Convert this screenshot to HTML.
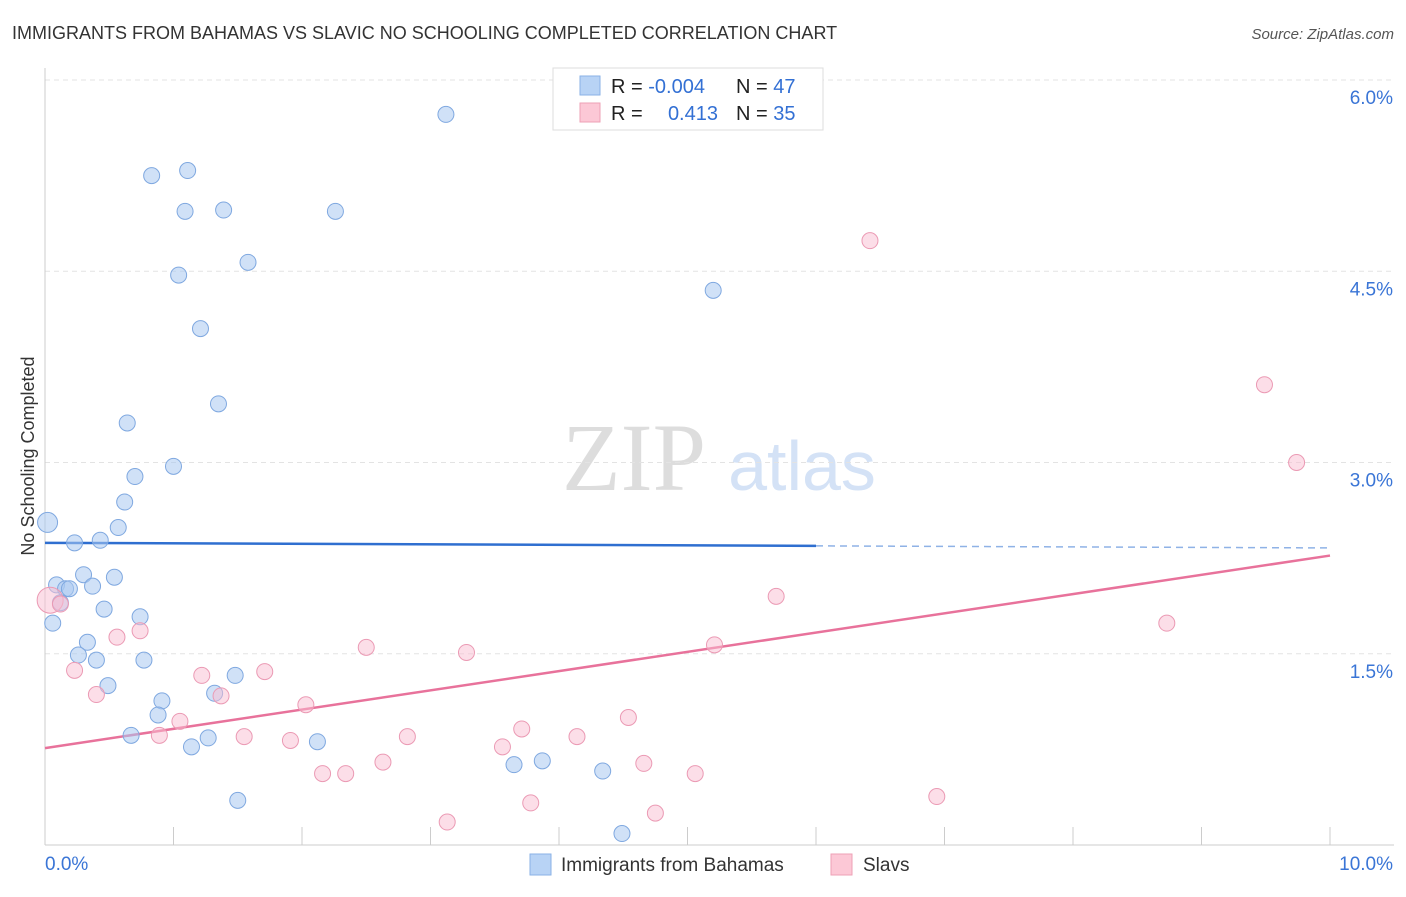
<!DOCTYPE html>
<html><head><meta charset="utf-8"><style>
body{margin:0;background:#fff;font-family:"Liberation Sans",sans-serif;}
</style></head><body>
<svg id="chart" width="1406" height="892" xmlns="http://www.w3.org/2000/svg" font-family="Liberation Sans, sans-serif">
<text x="12" y="39" font-size="18" fill="#333">IMMIGRANTS FROM BAHAMAS VS SLAVIC NO SCHOOLING COMPLETED CORRELATION CHART</text>
<text x="1394" y="39" font-size="15" fill="#555" text-anchor="end" font-style="italic">Source: ZipAtlas.com</text>
<g><text x="634" y="490" font-size="96" fill="#ddd" font-family="Liberation Serif, serif" text-anchor="middle">ZIP</text><text x="802" y="490" font-size="70" fill="#d4e2f6" text-anchor="middle">atlas</text></g>
<g id="grid"></g><g id="axes"></g><g id="trends"></g><g id="pts"></g>
<text transform="translate(34,456) rotate(-90)" font-size="18" fill="#333" text-anchor="middle">No Schooling Completed</text>
<g>
<rect x="553" y="68" width="270" height="62" fill="#fff" stroke="#ddd"/>
<rect x="580" y="76" width="20" height="19" fill="#b8d3f5" stroke="#8ab1e6"/>
<rect x="580" y="103" width="20" height="19" fill="#fcc8d6" stroke="#eea0b6"/>
<text x="611" y="93" font-size="20" fill="#222">R = <tspan fill="#3370d4">-0.004</tspan></text>
<text x="736" y="93" font-size="20" fill="#222">N = <tspan fill="#3370d4">47</tspan></text>
<text x="611" y="120" font-size="20" fill="#222">R = </text>
<text x="718" y="120" font-size="20" fill="#3370d4" text-anchor="end">0.413</text>
<text x="736" y="120" font-size="20" fill="#222">N = <tspan fill="#3370d4">35</tspan></text>
</g>
<g>
<rect x="530" y="854" width="21" height="21" fill="#b8d3f5" stroke="#8ab1e6"/>
<text x="561" y="871" font-size="19" fill="#333">Immigrants from Bahamas</text>
<rect x="831" y="854" width="21" height="21" fill="#fcc8d6" stroke="#eea0b6"/>
<text x="863" y="871" font-size="19" fill="#333">Slavs</text>
</g>
</svg>
<script>
const blueX=[0.02,0.23,0.43,0.09,0.16,0.19,0.30,0.37,0.54,0.46,0.12,0.06,0.33,0.26,0.40,0.49,0.57,0.62,0.70,0.64,0.83,1.11,1.09,1.39,1.04,1.58,1.21,1.35,1.00,0.74,0.77,0.91,0.88,0.67,1.14,1.27,1.48,1.32,2.12,1.50,2.26,3.12,5.20,3.65,3.87,4.34,4.49];
const blueY=[2.53,2.37,2.39,2.04,2.01,2.01,2.12,2.03,2.10,1.85,1.90,1.74,1.59,1.49,1.45,1.25,2.49,2.69,2.89,3.31,5.25,5.29,4.97,4.98,4.47,4.57,4.05,3.46,2.97,1.79,1.45,1.13,1.02,0.86,0.77,0.84,1.33,1.19,0.81,0.35,4.97,5.73,4.35,0.63,0.66,0.58,0.09];
const pinkX=[0.04,0.12,0.23,0.40,0.56,0.74,0.89,1.05,1.22,1.37,1.55,1.71,1.91,2.03,2.16,2.34,2.50,2.63,2.82,3.13,3.28,3.56,3.71,3.78,4.14,4.54,4.66,4.75,5.06,5.21,5.69,6.42,6.94,8.73,9.49,9.74];
const pinkY=[1.92,1.89,1.37,1.18,1.63,1.68,0.86,0.97,1.33,1.17,0.85,1.36,0.82,1.10,0.56,0.56,1.55,0.65,0.85,0.18,1.51,0.77,0.91,0.33,0.85,1.00,0.64,0.25,0.56,1.57,1.95,4.74,0.38,1.74,3.61,3.00];
const yTicks=[1.5,3.0,4.5,6.0];
const yTickLabels=["1.5%","3.0%","4.5%","6.0%"];
const blueTrend=[2.37,2.33];
const pinkTrend=[0.76,2.27];
const NS="http://www.w3.org/2000/svg";
const sx=v=>45+v*128.5, sy=v=>845-v*127.5;
function mk(p,t,a){const e=document.createElementNS(NS,t);for(const k in a)e.setAttribute(k,a[k]);document.getElementById(p).appendChild(e);return e;}
yTicks.forEach((t,i)=>{
 let l=mk('grid','line',{x1:45,x2:1394,y1:sy(t),y2:sy(t),stroke:'#e3e3e3','stroke-dasharray':'5,4'});
 
 
 let tx=mk('grid','text',{x:1393,y:sy(t)+24,'font-size':19,fill:'#3a75d6','text-anchor':'end'});tx.textContent=yTickLabels[i];
 
 
});
let ax=mk('axes','line',{x1:45,x2:45,y1:68,y2:845,stroke:'#ccc'});


let bx=mk('axes','line',{x1:45,x2:1394,y1:845,y2:845,stroke:'#ccc'});


for(let i=1;i<=10;i++){let t=mk('axes','line',{x1:sx(i),x2:sx(i),y1:827,y2:845,stroke:'#ccc'});
 
 }
[["0.0%",45,"start"],["10.0%",1393,"end"]].forEach(a=>{let t=mk('axes','text',{x:a[1],y:870,'font-size':19,fill:'#3a75d6','text-anchor':a[2]});t.textContent=a[0];
 
 });
const bAt=x=>blueTrend[0]+(blueTrend[1]-blueTrend[0])*x/10;
let t1=mk('trends','line',{x1:sx(0),y1:sy(bAt(0)),x2:sx(6),y2:sy(bAt(6)),stroke:'#2f6fd0','stroke-width':2.5});


let t2=mk('trends','line',{x1:sx(6),y1:sy(bAt(6)),x2:sx(10),y2:sy(bAt(10)),stroke:'#8fb2e6','stroke-width':1.5,'stroke-dasharray':'7,5'});


let t3=mk('trends','line',{x1:sx(0),y1:sy(pinkTrend[0]),x2:sx(10),y2:sy(pinkTrend[1]),stroke:'#e8729b','stroke-width':2.5});


blueX.forEach((x,i)=>{let c=mk('pts','circle',{cx:sx(x),cy:sy(blueY[i]),r:i==0?10:8,fill:'rgba(170,200,240,0.55)',stroke:'#7fa8e0','stroke-width':1});
 
 });
pinkX.forEach((x,i)=>{let c=mk('pts','circle',{cx:sx(x),cy:sy(pinkY[i]),r:i==0?13:8,fill:'rgba(250,190,210,0.5)',stroke:'#eb9ab4','stroke-width':1});
 
 });
</script>
</body></html>
